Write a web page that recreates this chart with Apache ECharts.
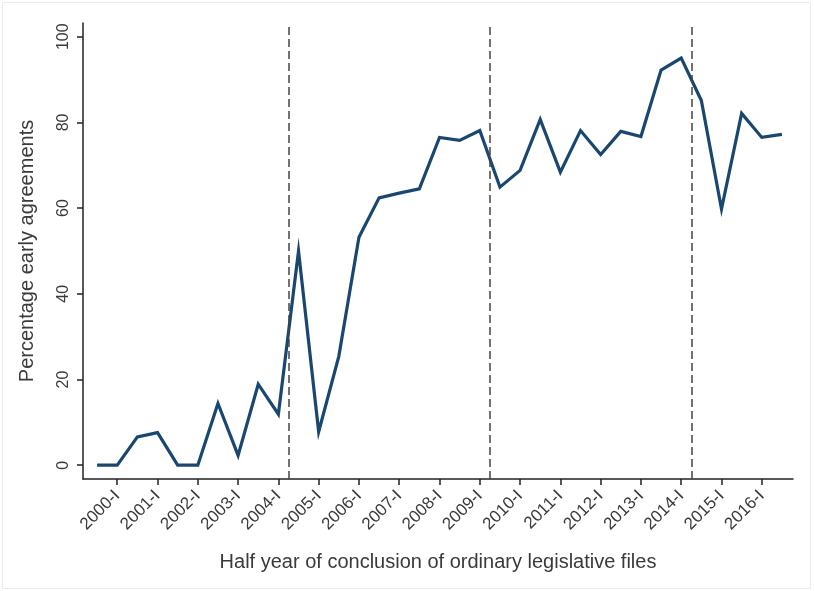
<!DOCTYPE html>
<html>
<head>
<meta charset="utf-8">
<script src="https://cdn.jsdelivr.net/npm/echarts@6/dist/echarts.min.js"></script>
<style>
  html, body { margin: 0; padding: 0; background: #fff; }
  #chart { width: 814px; height: 591px; }
</style>
</head>
<body>
<div id="chart"></div>
<script>
// Half-year periods, from the second half of 1999 to the second half of 2016
const periods = [
  '1999-II',
  '2000-I', '2000-II', '2001-I', '2001-II', '2002-I', '2002-II', '2003-I', '2003-II',
  '2004-I', '2004-II', '2005-I', '2005-II', '2006-I', '2006-II', '2007-I', '2007-II',
  '2008-I', '2008-II', '2009-I', '2009-II', '2010-I', '2010-II', '2011-I', '2011-II',
  '2012-I', '2012-II', '2013-I', '2013-II', '2014-I', '2014-II', '2015-I', '2015-II',
  '2016-I', '2016-II'
];

// Share of files concluded as early agreements (%)
const earlyAgreements = [
  0, 0, 6.6, 7.6, 0, 0, 14.4, 2.3, 18.9,
  11.9, 50.0, 7.8, 25.4, 53.2, 62.4, 63.5, 64.5,
  76.5, 75.8, 78.1, 64.9, 68.8, 80.7, 68.4, 78.1,
  72.5, 77.9, 76.7, 92.2, 95.0, 85.1, 59.8, 82.1,
  76.5, 77.2
];

// European Parliament elections fall between the I and II half of these years
const electionYears = ['2004', '2009', '2014'];

const yTicks = [0, 20, 40, 60, 80, 100];

// Positions along the x axis are half-year indices into `periods`
const seriesData = earlyAgreements.map((v, i) => [i, v]);
const labelIndices = periods.map((p, i) => (/-I$/.test(p) ? i : -1)).filter(i => i >= 0);
const electionMarks = electionYears.map(y => ({ xAxis: periods.indexOf(y + '-I') + 0.5 }));

const textColor = '#3a3a3a';
const font = 'Liberation Sans, Arial, sans-serif';

const chart = echarts.init(document.getElementById('chart'), null, { renderer: 'canvas' });
chart.setOption({
  animation: false,
  backgroundColor: '#ffffff',
  graphic: [{
    type: 'rect',
    shape: { x: 2.5, y: 2.5, width: 808, height: 586 },
    style: { fill: 'none', stroke: '#ebebeb', lineWidth: 1 },
    silent: true
  }],
  grid: { left: 83, right: 21, top: 23, bottom: 112, containLabel: false },
  xAxis: {
    type: 'value',
    min: -0.7,
    max: 34.55,
    name: 'Half year of conclusion of ordinary legislative files',
    nameLocation: 'middle',
    nameGap: 73,
    nameTextStyle: { color: textColor, fontFamily: font, fontSize: 20 },
    axisLine: { show: true, onZero: false, lineStyle: { color: '#222', width: 1.5 } },
    axisTick: { show: true, length: 6, customValues: labelIndices, lineStyle: { color: '#222', width: 1.5 } },
    axisLabel: {
      customValues: labelIndices,
      formatter: v => periods[Math.round(v)] || '',
      rotate: 45,
      margin: 14,
      color: textColor,
      fontFamily: font,
      fontSize: 17
    },
    splitLine: { show: false }
  },
  yAxis: {
    type: 'value',
    min: -3.22,
    max: 103.2,
    name: 'Percentage early agreements',
    nameLocation: 'middle',
    nameGap: 46,
    nameTextStyle: { color: textColor, fontFamily: font, fontSize: 20 },
    axisLine: { show: true, onZero: false, lineStyle: { color: '#222', width: 1.5 } },
    axisTick: { show: true, length: 6, customValues: yTicks, lineStyle: { color: '#222', width: 1.5 } },
    axisLabel: {
      customValues: yTicks,
      rotate: 90,
      margin: 11,
      color: textColor,
      fontFamily: font,
      fontSize: 16
    },
    splitLine: { show: false }
  },
  series: [{
    type: 'line',
    data: seriesData,
    symbol: 'none',
    lineStyle: { color: '#1a476f', width: 3.2, join: 'miter' },
    markLine: {
      silent: true,
      symbol: ['none', 'none'],
      label: { show: false },
      lineStyle: { color: '#444', width: 1.5, type: [8, 4] },
      data: electionMarks
    }
  }]
});
</script>
</body>
</html>
